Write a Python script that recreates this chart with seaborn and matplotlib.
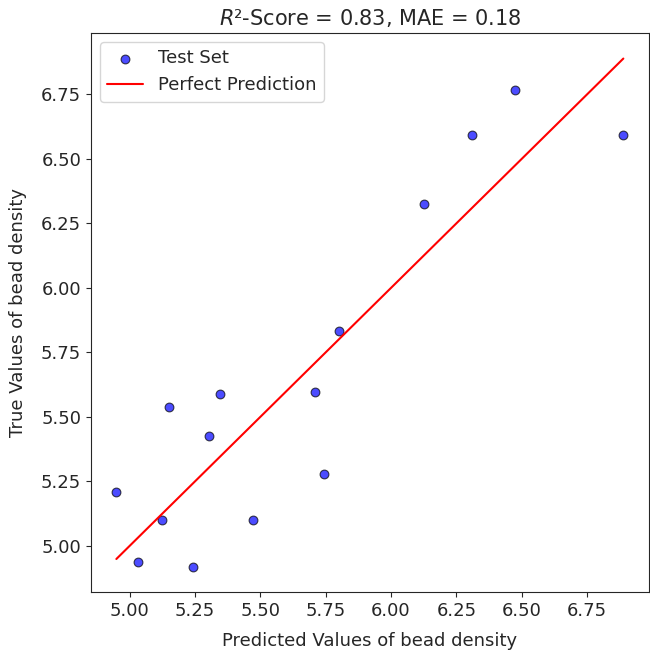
import seaborn as sns
import pandas as pd
import matplotlib.pyplot as plt

# predicted vs true values
y_pred = [4.949, 5.031, 5.123, 5.151, 5.241, 5.304, 5.345, 5.470,
          5.708, 5.744, 5.801, 6.125, 6.309, 6.474, 6.889]
y_true = [5.207, 4.937, 5.102, 5.538, 4.919, 5.425, 5.587, 5.102,
          5.595, 5.278, 5.833, 6.324, 6.591, 6.769, 6.591]
r2_score = 0.83
mae = 0.18

df = pd.DataFrame({'pred': y_pred, 'true': y_true})
line = pd.DataFrame({'x': [min(y_pred), max(y_pred)], 'y': [min(y_pred), max(y_pred)]})

sns.set_style('ticks')
plt.rcParams['font.family'] = ['DejaVu Sans']

fig, ax = plt.subplots(figsize=(6.5, 6.5), dpi=100)
sns.scatterplot(data=df, x='pred', y='true', color='blue', alpha=0.7,
                edgecolor='black', s=40, linewidth=0.8, label='Test Set', ax=ax)
sns.lineplot(data=line, x='x', y='y', color='red', linewidth=1.5,
             label='Perfect Prediction', ax=ax)

ax.set_title(f'$R$²-Score = {r2_score:.2f}, MAE = {mae:.2f}', fontsize=15, pad=6)
ax.set_xlabel('Predicted Values of bead density', fontsize=13, labelpad=9)
ax.set_ylabel('True Values of bead density', fontsize=13, labelpad=10)
ax.tick_params(labelsize=13)
ax.legend(loc='upper left', fontsize=13)

plt.subplots_adjust(left=0.14, right=0.998, top=0.949, bottom=0.089)
plt.savefig('out.png', dpi=100)
